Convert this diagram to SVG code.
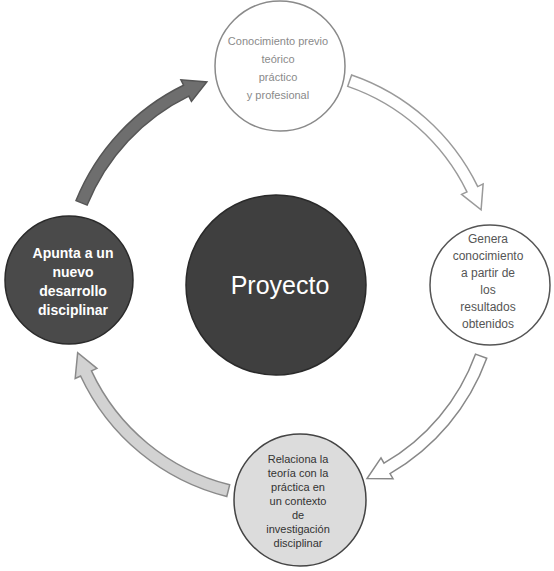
<svg xmlns="http://www.w3.org/2000/svg" width="554" height="571" viewBox="0 0 554 571">
<style>
.arc{stroke-width:1.5;stroke-linejoin:miter}
.node{stroke-width:1.5}
.t{font-family:"Liberation Sans",Arial,sans-serif;text-anchor:middle}
</style>
<rect width="554" height="571" fill="#ffffff"/>
<g id="connectors">
<path class="arc" fill="#6e6e6e" stroke="#555555" d="M 76.02 200.59 A 220 220 0 0 1 183.55 85.26 L 180.92 79.87 L 206.81 81.90 L 191.44 101.44 L 188.81 96.05 A 208 208 0 0 0 87.14 205.08 Z"/>
<path class="arc" fill="#ffffff" stroke="#9a9a9a" d="M 351.63 74.99 A 220 220 0 0 1 477.74 186.55 L 483.13 183.92 L 481.10 209.81 L 461.56 194.44 L 466.95 191.81 A 208 208 0 0 0 347.72 86.34 Z"/>
<path class="arc" fill="#ffffff" stroke="#888888" d="M 486.73 358.24 A 220 220 0 0 1 390 473.53 L 393 478.72 L 367.03 478.49 L 381 457.93 L 384 463.13 A 208 208 0 0 0 475.46 354.14 Z"/>
<path class="arc" fill="#d2d2d2" stroke="#8a8a8a" d="M 226.78 496.47 A 220 220 0 0 1 80.61 375.97 L 75.18 378.51 L 77.66 352.68 L 96.93 368.37 L 91.49 370.90 A 208 208 0 0 0 229.68 484.82 Z"/>
</g>
<g id="node-center">
<circle class="node" cx="276" cy="285" r="90" fill="#3f3f3f" stroke="#2a2a2a"/>
<text class="t" x="280" y="294" font-size="25" fill="#ffffff">Proyecto</text>
</g>
<g id="node-top">
<circle class="node" cx="280" cy="66" r="65" fill="#ffffff" stroke="#8a8a8a"/>
<text class="t" font-size="11" fill="#8a8a8a"><tspan x="278" y="45">Conocimiento previo</tspan><tspan x="278" y="63">teórico</tspan><tspan x="278" y="81">práctico</tspan><tspan x="278" y="99">y profesional</tspan></text>
</g>
<g id="node-right">
<circle class="node" cx="490" cy="285" r="60" fill="#ffffff" stroke="#555555"/>
<text class="t" font-size="12" fill="#555555"><tspan x="488" y="243">Genera</tspan><tspan x="488" y="260">conocimiento</tspan><tspan x="488" y="277">a partir de</tspan><tspan x="488" y="294">los</tspan><tspan x="488" y="311">resultados</tspan><tspan x="488" y="328">obtenidos</tspan></text>
</g>
<g id="node-bottom">
<circle class="node" cx="300" cy="500" r="66" fill="#dcdcdc" stroke="#444444"/>
<text class="t" font-size="11" fill="#333333"><tspan x="298" y="463">Relaciona la</tspan><tspan x="298" y="477">teoría con la</tspan><tspan x="298" y="491">práctica en</tspan><tspan x="298" y="505">un contexto</tspan><tspan x="298" y="519">de</tspan><tspan x="298" y="533">investigación</tspan><tspan x="298" y="547">disciplinar</tspan></text>
</g>
<g id="node-left">
<circle class="node" cx="69" cy="280" r="64" fill="#4a4a4a" stroke="#2a2a2a"/>
<text class="t" font-size="14" font-weight="bold" fill="#ffffff"><tspan x="73" y="258">Apunta a un</tspan><tspan x="73" y="277">nuevo</tspan><tspan x="73" y="296">desarrollo</tspan><tspan x="73" y="315">disciplinar</tspan></text>
</g>
</svg>
